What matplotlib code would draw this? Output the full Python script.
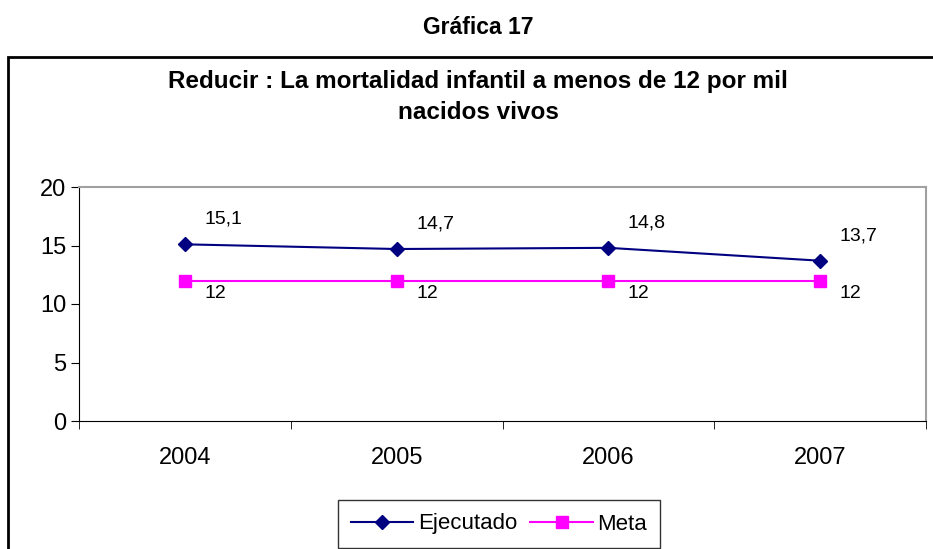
import matplotlib
matplotlib.use("Agg")
import matplotlib.pyplot as plt
from matplotlib.patches import Rectangle

plt.rcParams['font.family'] = ['Liberation Sans', 'DejaVu Sans']

years = ['2004', '2005', '2006', '2007']
ejecutado = [15.1, 14.7, 14.8, 13.7]
meta = [12, 12, 12, 12]
ejecutado_labels = ['15,1', '14,7', '14,8', '13,7']
meta_labels = ['12', '12', '12', '12']

W, H = 933, 549
fig = plt.figure(figsize=(W/100, H/100), dpi=100)

# outer chart frame
fig.patches.append(Rectangle((8/W, -0.05), 1.2, (H-57)/H + 0.05, transform=fig.transFigure,
                             fill=False, edgecolor='black', lw=2))

fig.text(478/W, 1 - 27/H, 'Gráfica 17', ha='center', va='center', fontsize=16.5, fontweight='bold')
fig.text(478/W, 1 - 97/H, 'Reducir : La mortalidad infantil a menos de 12 por mil\nnacidos vivos',
         ha='center', va='center', fontsize=17.5, fontweight='bold', linespacing=1.45)

left, right, top, bottom = 79, 926, 187, 421
ax = fig.add_axes([left/W, 1 - bottom/H, (right-left)/W, (bottom-top)/H])
x = list(range(len(years)))
ax.plot(x, ejecutado, color='#000080', marker='D', markersize=7, lw=1.5, label='Ejecutado')
ax.plot(x, meta, color='#FF00FF', marker='s', markersize=8.5, lw=1.5, label='Meta')
for xi, v, t in zip(x, ejecutado, ejecutado_labels):
    ax.annotate(t, (xi, v), xytext=(14, 18), textcoords='offset points', fontsize=14,
                ha='left', va='center')
for xi, v, t in zip(x, meta, meta_labels):
    ax.annotate(t, (xi, v), xytext=(14, -9), textcoords='offset points', fontsize=14,
                ha='left', va='center')

ax.set_xlim(-0.5, 3.5)
ax.set_ylim(0, 20)
ax.set_yticks([0, 5, 10, 15, 20])
ax.set_xticks(x)
ax.set_xticklabels(years)
ax.set_xticks([-0.5, 0.5, 1.5, 2.5, 3.5], minor=True)
ax.tick_params(axis='x', which='major', length=0, pad=19, labelsize=17)
ax.tick_params(axis='x', which='minor', length=6, direction='out')
ax.tick_params(axis='y', length=6, direction='out', labelsize=17, pad=3)
for s in ['top', 'right']:
    ax.spines[s].set_color('#A0A0A0')
    ax.spines[s].set_linewidth(1.5)
ax.spines['left'].set_color('black')
ax.spines['bottom'].set_color('black')

leg = ax.legend(loc='center', bbox_to_anchor=(499/W, 1 - 524/H), bbox_transform=fig.transFigure,
                ncol=2, fontsize=16, frameon=True, fancybox=False, edgecolor='black',
                handlelength=2.8, columnspacing=0.6, handletextpad=0.2, borderpad=0.6)
leg.get_frame().set_linewidth(1)

fig.savefig('out.png', dpi=100)
